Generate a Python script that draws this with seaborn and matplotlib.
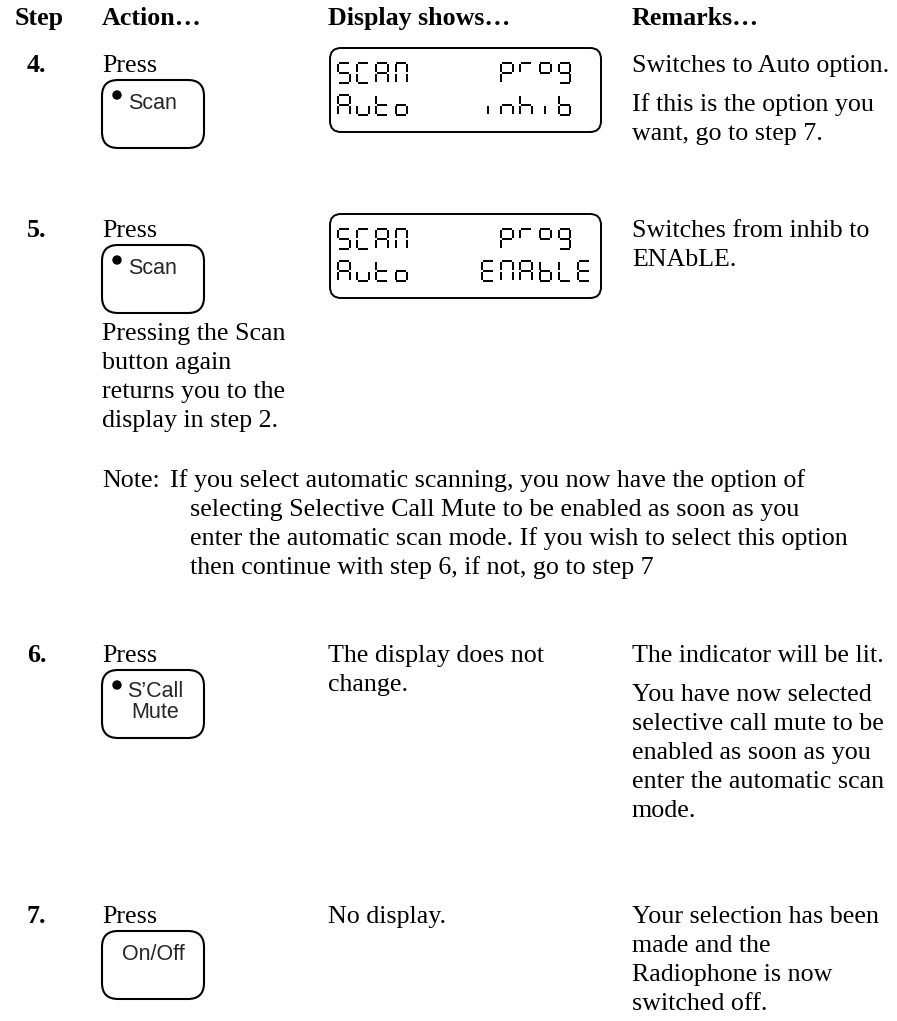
import matplotlib
matplotlib.use("Agg")
import matplotlib.pyplot as plt
from matplotlib.patches import FancyBboxPatch, Circle
import seaborn as sns

# page content
headers = ["Step", "Action\u2026", "Display shows\u2026", "Remarks\u2026"]
header_x = [15, 102, 328, 632]

step_labels = ["4.", "5.", "6.", "7."]
step_rows = [72, 237, 662, 923]          # baseline of each step row
button_labels = ["Scan", "Scan", "S\u2019Call\nMute", "On/Off"]
button_dot = [True, True, True, False]

lcd_rows = [
    ("SCAN", "prog", "Auto", "inhib"),
    ("SCAN", "prog", "Auto", "ENAbLE"),
]
display_text = [None, None, ["The display does not", "change."], ["No display."]]

remarks = [
    [["Switches to Auto option."], ["If this is the option you", "want, go to step 7."]],
    [["Switches from inhib to", "ENAbLE."]],
    [["The indicator will be lit."],
     ["You have now selected", "selective call mute to be", "enabled as soon as you",
      "enter the automatic scan", "mode."]],
    [["Your selection has been", "made and the", "Radiophone is now", "switched off."]],
]

step5_extra = ["Pressing the Scan", "button again", "returns you to the", "display in step 2."]
note_lines = [
    "If you select automatic scanning, you now have the option of",
    "selecting Selective Call Mute to be enabled as soon as you",
    "enter the automatic scan mode. If you wish to select this option",
    "then continue with step 6, if not, go to step 7",
]

# seven segment maps
SEG = {
    "S": "afgcd", "C": "afed", "A": "abcefg", "N": "abcef", "p": "abefg",
    "r": "af", "o_hi": "abfg", "o": "gcde", "g": "abcdfg", "u": "edc",
    "t": "defg", "i": "e", "n": "egc", "h": "fegc", "b": "fegcd",
    "E": "afged", "L": "fed",
}

sns.set_theme(style="white")
plt.rcParams["font.family"] = ["Liberation Serif", "DejaVu Serif"]

W, H = 897, 1021
fig = plt.figure(figsize=(W / 100, H / 100), dpi=100)
ax = fig.add_axes([0, 0, 1, 1])
ax.set_xlim(0, W)
ax.set_ylim(H, 0)
ax.axis("off")

FS = 18.7
BFS = 15.5
LINE = 29
PARA = 10
SANS = ["Liberation Sans", "DejaVu Sans"]


def txt(x, y, s, **kw):
    kw.setdefault("fontsize", FS)
    ax.text(x, y, s, va="baseline", ha="left", color="black", **kw)


def lines(x, y, items, gap=LINE):
    for k, s in enumerate(items):
        txt(x, y + k * gap, s)
    return y + (len(items) - 1) * gap


def glyph(x0, top, ch, upper_o=False, w=11.5, h=20):
    key = "o_hi" if (ch == "o" and upper_o) else ch
    segs = SEG[key]
    m = top + h / 2
    g = 0.8
    pts = {
        "a": ((x0 + g, top), (x0 + w - g, top)),
        "g": ((x0 + g, m), (x0 + w - g, m)),
        "d": ((x0 + g, top + h), (x0 + w - g, top + h)),
        "f": ((x0, top + g), (x0, m - g)),
        "b": ((x0 + w, top + g), (x0 + w, m - g)),
        "e": ((x0, m + g), (x0, top + h - g)),
        "c": ((x0 + w, m + g), (x0 + w, top + h - g)),
    }
    if ch == "i":
        pts["e"] = ((x0 + w / 2, m + g), (x0 + w / 2, top + h - g))
    for s in segs:
        (xa, ya), (xb, yb) = pts[s]
        ax.plot([xa, xb], [ya, yb], color="black", lw=1.4, solid_capstyle="butt")


def lcd(top, rows):
    ax.add_patch(FancyBboxPatch((330, top), 271, 84,
                                boxstyle="round,pad=0,rounding_size=11",
                                fill=False, lw=1.4, ec="black"))
    l1, r1, l2, r2 = rows
    pitch = 19.2
    for k, ch in enumerate(l1):
        glyph(338 + k * pitch, top + 15, ch)
    for k, ch in enumerate(l2):
        glyph(338 + k * pitch, top + 47, ch)
    start1 = 482 + pitch
    for k, ch in enumerate(r1):
        glyph(start1 + k * pitch, top + 15, ch, upper_o=True)
    start2 = 482 if len(r2) >= 5 else 482 + pitch
    for k, ch in enumerate(r2):
        glyph(start2 + k * pitch, top + 47, ch)


def button(top, label, dot):
    ax.add_patch(FancyBboxPatch((102, top), 102, 68,
                                boxstyle="round,pad=0,rounding_size=16",
                                fill=False, lw=1.5, ec="black"))
    if dot:
        ax.add_patch(Circle((117, top + 15), 4, color="black"))
    parts = label.split("\n")
    if len(parts) == 1:
        x = 128 if dot else 122
        ax.text(x, top + 29, parts[0], fontsize=BFS, family=SANS, va="baseline")
    else:
        ax.text(155, top + 27, parts[0], fontsize=BFS, family=SANS, va="baseline", ha="center")
        ax.text(155, top + 48, parts[1], fontsize=BFS, family=SANS, va="baseline", ha="center")


# header
for x, s in zip(header_x, headers):
    txt(x, 25, s, fontweight="bold")

lcd_tops = [48, 214]
for i, (lab, y) in enumerate(zip(step_labels, step_rows)):
    txt(27, y, lab, fontweight="bold")
    txt(102, y, "Press")
    button(y + 8, button_labels[i], button_dot[i])
    if i < 2:
        lcd(lcd_tops[i], lcd_rows[i])
    elif display_text[i]:
        lines(328, y, display_text[i])
    yy = y
    for para in remarks[i]:
        end = lines(632, yy, para)
        yy = end + LINE + PARA

# text under step 5 button
lines(102, 340, step5_extra)

# note block
txt(102, 487, "Note:")
txt(170, 487, note_lines[0])
lines(190, 487 + LINE, note_lines[1:])

fig.savefig("out.png", dpi=100, facecolor="white")
